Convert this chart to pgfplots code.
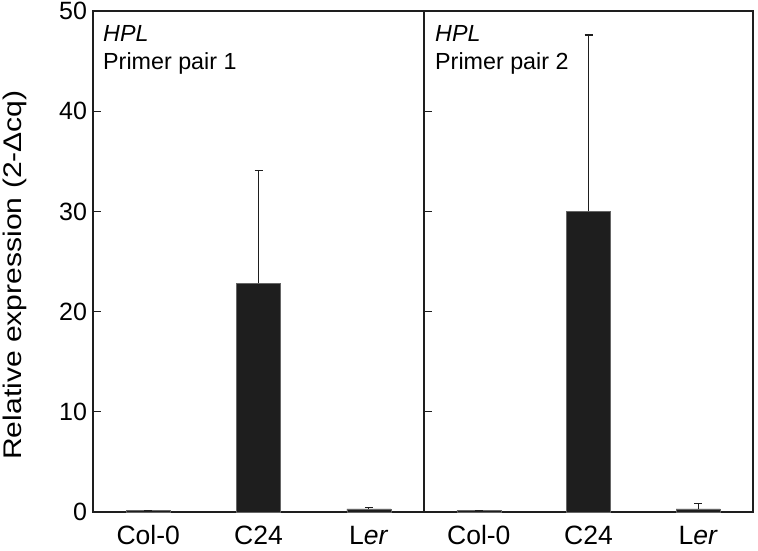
\documentclass[border=0pt]{standalone}
\usepackage{pgfplots}
\pgfplotsset{compat=1.18}
\usepackage{fontspec}
\setmainfont{Liberation Sans}
\usepackage{graphicx}
\definecolor{barfill}{RGB}{30,30,30}
\definecolor{axcol}{RGB}{30,30,30}

\pgfplotsset{
  panel/.style={
    scale only axis, height=501pt, anchor=south west,
    xmin=-0.5, xmax=2.5, ymin=0, ymax=50,
    xtick={0,1,2}, xticklabels={Col-0, C24, L\textit{er}},
    ytick={0,10,...,50},
    ytick pos=left, tick align=inside, major tick length=8pt,
    x tick style={draw=none},
    axis line style={line width=1.2pt, axcol},
    y tick style={line width=1.1pt, axcol},
    xticklabel style={font=\fontsize{26.5}{30}\selectfont, anchor=base, yshift=-32pt},
    yticklabel style={font=\fontsize{25}{28}\selectfont, xshift=-2.5pt},
    /pgf/number format/assume math mode=true,
    clip=false,
  },
  bars/.style={
    ybar, bar width=44pt, fill=barfill, draw=black!60, line width=0.4pt,
    error bars/.cd, y dir=plus, y explicit,
    error bar style={line width=1.2pt, axcol},
    error mark options={rotate=90, line width=1.2pt, axcol, mark size=4pt},
  },
}

\begin{document}
\begin{tikzpicture}
\path[use as bounding box] (0,0) rectangle (758pt,550pt);

\begin{axis}[panel, width=331pt, at={(93pt,38pt)}]
  \addplot[bars] coordinates {
    (0,0.15) +- (0,0)
    (1,22.85) +- (0,11.25)
    (2,0.32) +- (0,0.15)
  };
  \node[anchor=base west, inner sep=0, font=\fontsize{23.3}{27}\selectfont\itshape]
    at ([xshift=10pt,yshift=-31pt]rel axis cs:0,1) {HPL};
  \node[anchor=base west, inner sep=0, font=\fontsize{23.3}{27}\selectfont]
    at ([xshift=10pt,yshift=-59pt]rel axis cs:0,1) {Primer pair 1};
\end{axis}

\begin{axis}[panel, width=329pt, at={(424pt,38pt)}, yticklabels={}]
  \addplot[bars] coordinates {
    (0,0.15) +- (0,0)
    (1,30.0) +- (0,17.6)
    (2,0.32) +- (0,0.5)
  };
  \node[anchor=base west, inner sep=0, font=\fontsize{23.3}{27}\selectfont\itshape]
    at ([xshift=11pt,yshift=-31pt]rel axis cs:0,1) {HPL};
  \node[anchor=base west, inner sep=0, font=\fontsize{23.3}{27}\selectfont]
    at ([xshift=11pt,yshift=-59pt]rel axis cs:0,1) {Primer pair 2};
\end{axis}

\node[rotate=90, inner sep=0, font=\fontsize{25.5}{30}\selectfont] at (15pt,275pt)
  {\scalebox{1.18}[1]{Relative expression (2-Δcq)}};
\end{tikzpicture}
\end{document}
